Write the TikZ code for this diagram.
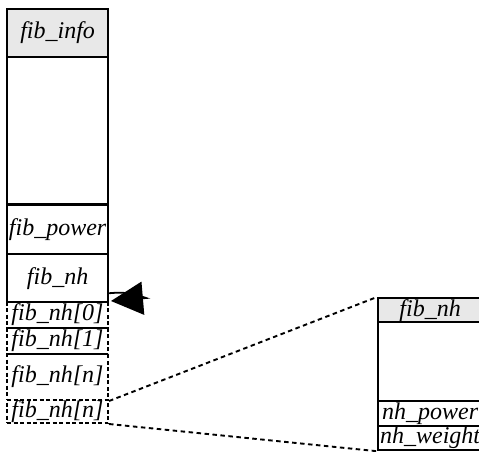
\documentclass[tikz,border=0pt]{standalone}
\usepackage{fontspec}
\setmainfont{Liberation Serif}
\usetikzlibrary{arrows.meta}
\begin{document}
\begin{tikzpicture}[x=1pt, y=-1pt, >=Stealth,
    cell/.style={draw, line width=2.2pt, rectangle, inner sep=0pt, anchor=north west,
      minimum width=101pt, font=\fontsize{24}{24}\selectfont\itshape},
    slot/.style={cell, dashed, line width=2pt, dash pattern=on 4pt off 2.5pt},
    headcell/.style={cell, fill=gray!18},
    link/.style={dashed, line width=1.9pt, dash pattern=on 4.5pt off 3.5pt}]
  \useasboundingbox (0,0) rectangle (479,451);
  % the fib_info structure
  \node[headcell, minimum height=48pt] (finfo) at (6,8) {fib\_info};
  \node[cell, minimum height=147pt] (fbody) at (6,56) {};
  \node[cell, minimum height=49pt] (fpower) at (6,204) {fib\_power};
  \node[cell, minimum height=48pt] (fnh) at (6,253) {fib\_nh};
  % the fib_nh array that follows it
  \node[slot, minimum height=26pt] (nha) at (6,301) {fib\_nh[0]};
  \node[slot, minimum height=26pt] (nhb) at (6,327) {fib\_nh[1]};
  \node[slot, minimum height=46pt] (nhc) at (6,353) {fib\_nh[n]};
  \node[slot, minimum height=23pt] (nhd) at (6,399) {fib\_nh[n]};
  % one fib_nh element, enlarged
  \node[headcell, minimum width=104pt, minimum height=24pt] (rhead) at (377,297) {fib\_nh};
  \node[cell, minimum width=104pt, minimum height=79pt] (rbody) at (377,321) {};
  \node[cell, minimum width=104pt, minimum height=25pt] (rpower) at (377,400) {nh\_power};
  \node[cell, minimum width=104pt, minimum height=24pt] (rweight) at (377,425) {nh\_weight};
  % pointer back to the array
  \coordinate (ptail) at (146,298);
  \coordinate (ptip) at (111,301);
  \draw[line width=1.8pt, -{Triangle[length=32pt, width=33pt]}]
    ([yshift=10pt]fnh.south east) to[out=5, in=160] (ptail) -- (ptip);
  % the enlarged element comes from the array
  \draw[link] (nhc.south east) -- (rhead.north west);
  \draw[link] (nhd.south east) -- (rweight.south west);
\end{tikzpicture}
\end{document}
